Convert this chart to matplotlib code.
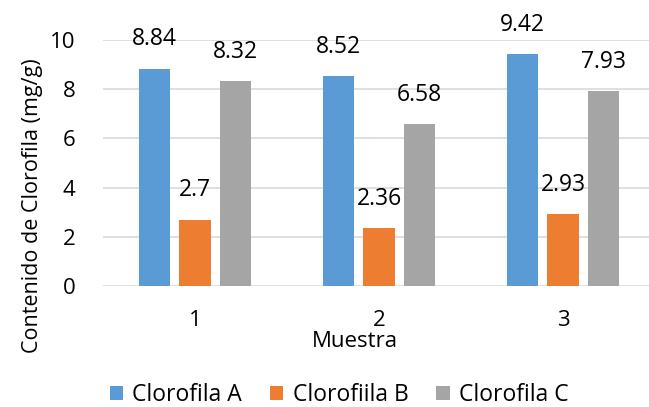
import matplotlib.pyplot as plt
import numpy as np

plt.rcParams['font.family'] = ['Open Sans', 'DejaVu Sans']
plt.rcParams['font.size'] = 16

muestras = ['1', '2', '3']
clorofila_a = [8.84, 8.52, 9.42]
clorofila_b = [2.7, 2.36, 2.93]
clorofila_c = [8.32, 6.58, 7.93]
series_names = ['Clorofila A', 'Clorofiila B', 'Clorofila C']
colors = ['#5B9BD5', '#ED7D31', '#A5A5A5']

fig = plt.figure(figsize=(6.49, 4.07), dpi=100)
ax = fig.add_axes([103 / 649, 1 - 286 / 407, 552 / 649, 246 / 407])

x = np.arange(len(muestras))
width = 0.17
step = 0.22
for i, (vals, name, c) in enumerate(zip([clorofila_a, clorofila_b, clorofila_c], series_names, colors)):
    bars = ax.bar(x + (i - 1) * step, vals, width, color=c, label=name, zorder=3)
    for b, v in zip(bars, vals):
        ax.annotate(f'{v:g}', (b.get_x() + b.get_width() / 2, v), xytext=(0, 21),
                    textcoords='offset points', ha='center', va='center', fontsize=16.5)

ax.set_xlim(-0.5, 2.5)
ax.set_ylim(0, 10)
ax.set_yticks(range(0, 11, 2))
ax.set_xticks(x)
ax.set_xticklabels(muestras)
ax.tick_params(axis='both', length=0)
ax.tick_params(axis='y', pad=20)
ax.tick_params(axis='x', pad=17)
ax.grid(axis='y', color='#D9D9D9', linewidth=1.2, zorder=0)
for s in ax.spines.values():
    s.set_visible(False)

ax.set_xlabel('Muestra')
ax.set_ylabel('Contenido de Clorofila (mg/g)', fontsize=15.5)
ax.yaxis.set_label_coords(-(103 - 43) / 552, (286 - 206) / 246)
ax.xaxis.set_label_coords((355 - 103) / 552, -(331 - 286) / 246)

fig.legend(loc='center', bbox_to_anchor=(339 / 649, 1 - 395 / 407), ncol=3, frameon=False,
           handlelength=0.6, handleheight=0.6, handletextpad=0.4, columnspacing=1.2, fontsize=16.5)

fig.savefig('out.png', dpi=100)
